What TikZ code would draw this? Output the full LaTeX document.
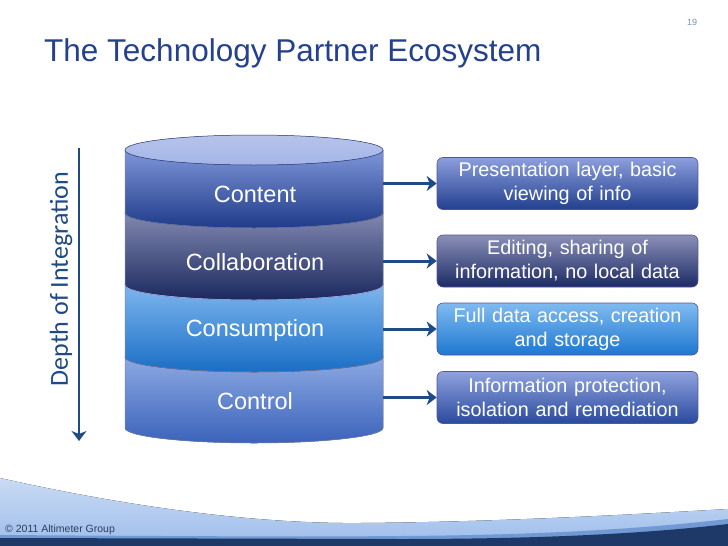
\documentclass[tikz,border=0pt]{standalone}
\usepackage{fontspec}
\setmainfont{Liberation Sans}
\newfontfamily\calfont{Carlito}
\usetikzlibrary{arrows.meta}
\definecolor{titleblue}{HTML}{24408E}
\definecolor{arrowblue}{HTML}{1F4A86}
\definecolor{rimline}{HTML}{1F336E}
\definecolor{lidfill}{HTML}{A4B5E6}
\definecolor{cTop}{HTML}{7F96D8}
\definecolor{cBot}{HTML}{1F3B8A}
\definecolor{kTop}{HTML}{8188B0}
\definecolor{kBot}{HTML}{1B295F}
\definecolor{sTop}{HTML}{7DB6EE}
\definecolor{sBot}{HTML}{1A6EC6}
\definecolor{rTop}{HTML}{8CA9E3}
\definecolor{rBot}{HTML}{3B63BA}
\definecolor{b1Top}{HTML}{8C9EDC}
\definecolor{b1Bot}{HTML}{22408F}
\definecolor{b2Top}{HTML}{8A8FB6}
\definecolor{b2Bot}{HTML}{1C2B66}
\definecolor{b3Top}{HTML}{80BBF1}
\definecolor{b3Bot}{HTML}{1D77D0}
\definecolor{b4Top}{HTML}{8FA2DD}
\definecolor{b4Bot}{HTML}{2A4A9E}
\definecolor{footlight}{HTML}{9DBDEB}
\definecolor{footmid}{HTML}{7199D3}
\definecolor{footdark}{HTML}{1E3868}
\definecolor{copygray}{HTML}{2E3D5C}
\tikzset{
  x=1pt, y=1pt,
  infobox/.style={rounded corners=6pt, minimum width=261pt, minimum height=52pt,
    text width=255pt, align=center, text=white, draw=white!55!blue!60!black, line width=0.6pt,
    font=\fontsize{19.8}{24}\selectfont, inner sep=0pt},
  layerlabel/.style={text=white, font=\fontsize{23.5}{28}\selectfont},
  conn/.style={draw=arrowblue, line width=3pt, -{Stealth[length=10pt,width=15pt,inset=3pt]}},
  band/.style={line width=0.5pt, draw=rimline!60}
}
\begin{document}
\begin{tikzpicture}
\useasboundingbox (0,0) rectangle (728,-546);
\fill[white] (0,0) rectangle (728,-546);

% footer
\fill[top color=footlight!55!white, bottom color=footlight] (0,-478) .. controls (120,-505) and (250,-524) .. (360,-523) .. controls (500,-522) and (640,-514) .. (728,-509) -- (728,-546) -- (0,-546) -- cycle;
\fill[footmid] (0,-535) .. controls (150,-536) and (300,-537) .. (400,-536) .. controls (550,-535) and (650,-528) .. (728,-519) -- (728,-546) -- (0,-546) -- cycle;
\fill[footdark] (0,-538) -- (400,-539) .. controls (560,-539) and (660,-532) .. (728,-524) -- (728,-546) -- (0,-546) -- cycle;
\node[anchor=west, text=copygray, font=\fontsize{10.5}{12}\selectfont, inner sep=0pt] (copy) at (5,-530) {© 2011 Altimeter Group};

% page number
\node[text=arrowblue!60!white, font=\fontsize{9}{10}\selectfont] (pg) at (692,-22) {19};

% title
\node[anchor=west, text=titleblue, font=\fontsize{31.5}{36}\selectfont, inner sep=0pt] (title) at (44,-53) {The Technology Partner Ecosystem};

% depth arrow and label
\coordinate (dtop) at (79,-148);
\coordinate (dbot) at (79,-441);
\draw[conn, line width=2.6pt] (dtop) -- (dbot);
\node[rotate=90, text=arrowblue, font=\calfont\fontsize{26}{30}\selectfont] (depth) at (61,-279) {Depth of Integration};

% cylinder bands (bottom to top)
\fill[band, top color=rTop, bottom color=rBot] (125,-357) -- (125,-428) arc[start angle=180,end angle=360,x radius=129,y radius=15] -- (383,-357) arc[start angle=0,end angle=-180,x radius=129,y radius=15] -- cycle;
\fill[band, top color=sTop, bottom color=sBot] (125,-285) -- (125,-357) arc[start angle=180,end angle=360,x radius=129,y radius=15] -- (383,-285) arc[start angle=0,end angle=-180,x radius=129,y radius=15] -- cycle;
\fill[band, top color=kTop, bottom color=kBot] (125,-213) -- (125,-285) arc[start angle=180,end angle=360,x radius=129,y radius=15] -- (383,-213) arc[start angle=0,end angle=-180,x radius=129,y radius=15] -- cycle;
\fill[band, top color=cTop, bottom color=cBot] (125,-150) -- (125,-213) arc[start angle=180,end angle=360,x radius=129,y radius=15] -- (383,-150) -- cycle;
\draw[band, draw=rimline, top color=lidfill!80!white, bottom color=lidfill] (254,-150) ellipse[x radius=129, y radius=15];
\draw[rimline!70, line width=0.5pt] (125,-357) arc[start angle=180,end angle=360,x radius=129,y radius=15];
\draw[white!70!blue, line width=0.5pt] (125,-285) arc[start angle=180,end angle=360,x radius=129,y radius=15];
\draw[rimline!70, line width=0.5pt] (125,-213) arc[start angle=180,end angle=360,x radius=129,y radius=15];

\node[layerlabel] (content) at (255,-194) {Content};
\node[layerlabel] (collab) at (255,-262) {Collaboration};
\node[layerlabel] (consum) at (255,-330) {Consumption};
\node[layerlabel] (control) at (255,-401) {Control};

% boxes
\node[infobox, top color=b1Top, bottom color=b1Bot] (box1) at (567.5,-183.5) {Presentation layer, basic\\viewing of info};
\node[infobox, top color=b2Top, bottom color=b2Bot] (box2) at (567.5,-261) {Editing, sharing of\\information, no local data};
\node[infobox, top color=b3Top, bottom color=b3Bot] (box3) at (567.5,-329) {Full data access, creation\\and storage};
\node[infobox, top color=b4Top, bottom color=b4Bot] (box4) at (567.5,-397.5) {Information protection,\\isolation and remediation};

% connectors
\coordinate (e1) at (383,-183.5);
\coordinate (e2) at (383,-261);
\coordinate (e3) at (383,-329);
\coordinate (e4) at (383,-397.5);
\draw[conn] (e1) -- (box1.west);
\draw[conn] (e2) -- (box2.west);
\draw[conn] (e3) -- (box3.west);
\draw[conn] (e4) -- (box4.west);
\end{tikzpicture}
\end{document}
